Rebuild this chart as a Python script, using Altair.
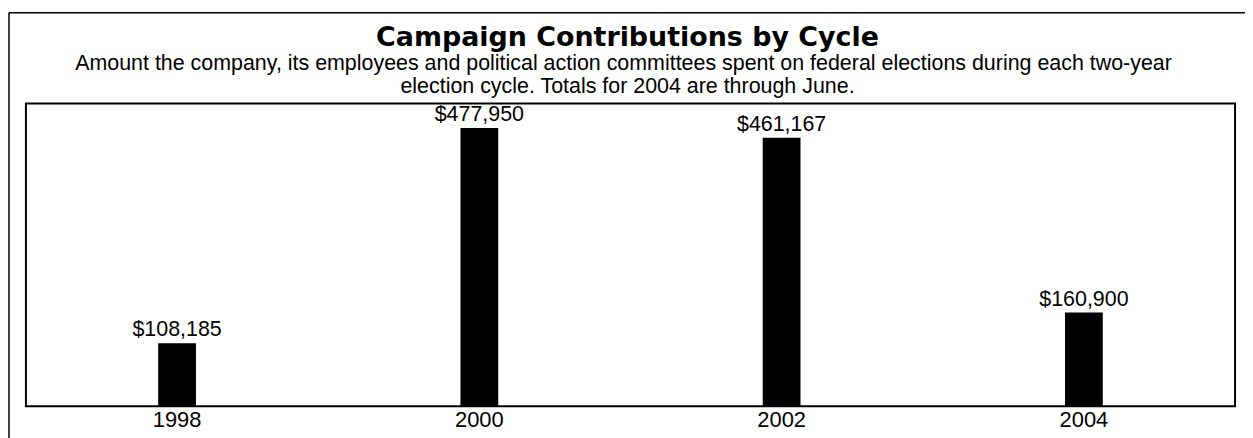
import altair as alt
import pandas as pd

cycles = ["1998", "2000", "2002", "2004"]
amounts = [108185, 477950, 461167, 160900]
labels = ["$108,185", "$477,950", "$461,167", "$160,900"]

title_text = "Campaign Contributions by Cycle"
subtitle_lines = [
    "Amount the company, its employees and political action committees spent on federal elections during each two-year",
    "election cycle. Totals for 2004 are through June.",
]

df = pd.DataFrame({"cycle": cycles, "amount": amounts, "label": labels})
one = pd.DataFrame({"k": [0]})

W = 1214
H = 304

base = alt.Chart(df).encode(
    x=alt.X(
        "cycle:N",
        sort=cycles,
        scale=alt.Scale(paddingInner=0.875, paddingOuter=0.4375),
        axis=alt.Axis(
            title=None,
            labelAngle=0,
            domain=False,
            ticks=False,
            labelFont="Liberation Sans",
            labelFontSize=22,
            labelColor="black",
            labelPadding=3,
        ),
    ),
    y=alt.Y("amount:Q", scale=alt.Scale(domain=[0, 520000]), axis=None),
)

bars = base.mark_bar(color="black")
text = base.mark_text(
    baseline="bottom", dy=-2, font="Liberation Sans", fontSize=21.5, color="black"
).encode(text="label:N")

frame_left = alt.Chart(one).mark_rule(color="black", strokeWidth=1.5).encode(
    x=alt.value(-17), y=alt.value(-91), y2=alt.value(H + 40)
)
frame_top = alt.Chart(one).mark_rule(color="black", strokeWidth=1.5).encode(
    x=alt.value(-17), x2=alt.value(W + 40), y=alt.value(-91)
)

title_mark = alt.Chart(one).mark_text(
    font="DejaVu Sans", fontWeight="bold", fontSize=27, color="black",
    align="center", baseline="alphabetic",
).encode(x=alt.value(604), y=alt.value(-58), text=alt.value(title_text))

sub1 = alt.Chart(one).mark_text(
    font="Liberation Sans", fontSize=21.5, color="black",
    align="center", baseline="alphabetic",
).encode(x=alt.value(600), y=alt.value(-34), text=alt.value(subtitle_lines[0]))

sub2 = alt.Chart(one).mark_text(
    font="Liberation Sans", fontSize=21.5, color="black",
    align="center", baseline="alphabetic",
).encode(x=alt.value(604), y=alt.value(-11), text=alt.value(subtitle_lines[1]))

chart = (
    alt.layer(frame_left, frame_top, title_mark, sub1, sub2, bars, text)
    .properties(
        width=W,
        height=H,
        autosize="none",
        background="white",
        padding={"left": 18, "top": 95, "right": 10, "bottom": 32},
    )
    .configure_view(stroke="black", strokeWidth=2)
)

chart.save("out.html", embed_options={"renderer": "svg", "actions": False})
